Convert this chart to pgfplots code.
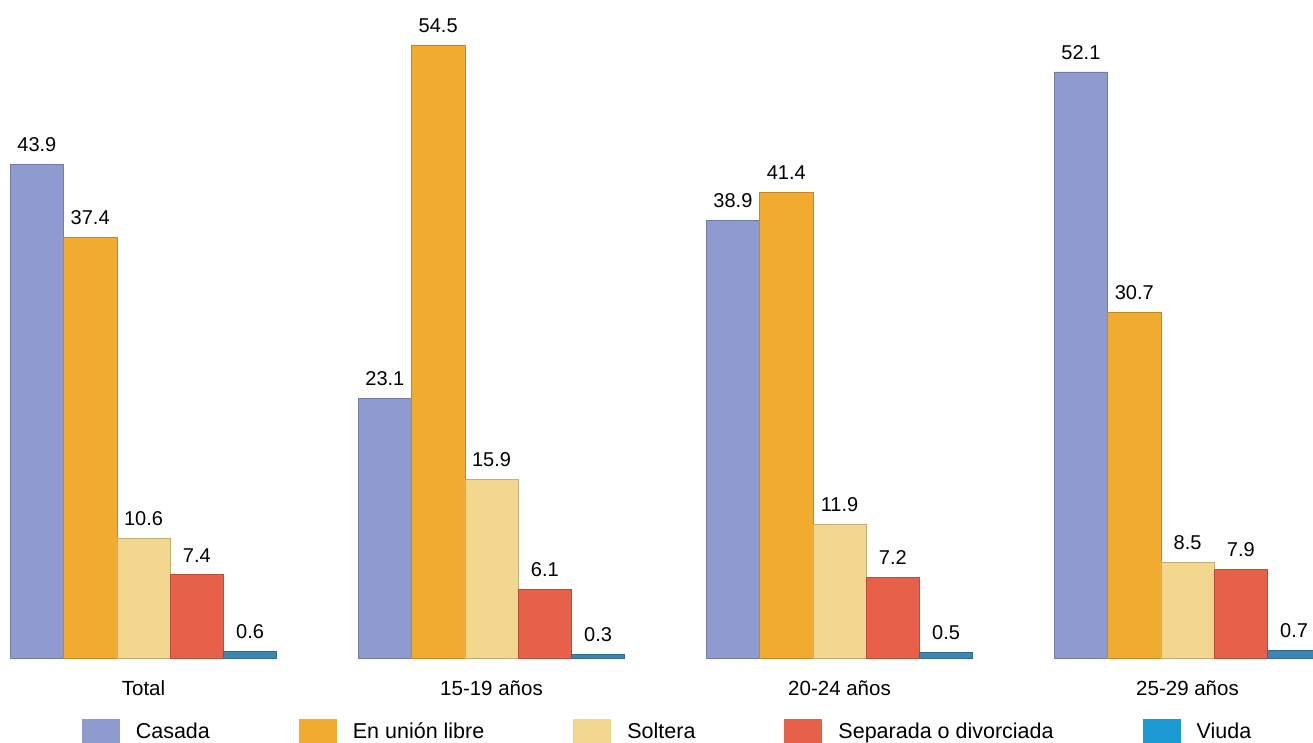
\documentclass[border=0pt]{standalone}
\usepackage{pgfplots}
\pgfplotsset{compat=1.18}
\usepackage{fontspec}
\setmainfont{Liberation Sans}
\definecolor{cCas}{HTML}{8E9BCF}
\definecolor{cUni}{HTML}{F1AB2E}
\definecolor{cSol}{HTML}{F2D88F}
\definecolor{cSep}{HTML}{E6604A}
\definecolor{cViu}{HTML}{3C85B5}
\definecolor{cViuL}{HTML}{1A9AD0}
\begin{document}
\begin{tikzpicture}
\pgfplotsset{
  barsh/.style={fill=#1, draw=#1!80!black, line width=0.6pt},
  leg/.style={legend image code/.code={\fill[#1, draw=none] (0pt,-12pt) rectangle (38pt,12pt);}},
}
\begin{axis}[
  scale only axis,
  width=1303pt, height=658pt,
  xmin=-0.3836, xmax=3.3606,
  ymin=0, ymax=58.49,
  ybar=0pt, bar width=53.3pt,
  axis x line*=bottom, axis y line=none,
  x axis line style={draw=none},
  major tick length=0pt,
  clip=false,
  xtick={0,1,2,3},
  xticklabels={Total,15-19 años,20-24 años,25-29 años},
  ytick=\empty,
  xticklabel style={font=\fontsize{20.5}{24}\selectfont, yshift=-19pt},
  every node near coord/.append style={font=\fontsize{20}{23}\selectfont, text=black, yshift=9pt},
  nodes near coords={\pgfmathprintnumber[fixed,fixed zerofill,precision=1,assume math mode=true]{\pgfplotspointmeta}},
  legend columns=5,
  legend cell align=left,
  legend style={draw=none, fill=none, at={(axis description cs:0.5,0)}, anchor=center, yshift=-73pt, xshift=6pt,
    font=\fontsize{21.5}{24}\selectfont,
    /tikz/every odd column/.append style={column sep=14pt},
    /tikz/every even column/.append style={column sep=87pt}},
]
\addplot[barsh=cCas, leg=cCas] coordinates {(0,43.9) (1,23.1) (2,38.9) (3,52.1)};
\addplot[barsh=cUni, leg=cUni] coordinates {(0,37.4) (1,54.5) (2,41.4) (3,30.7)};
\addplot[barsh=cSol, leg=cSol] coordinates {(0,10.6) (1,15.9) (2,11.9) (3,8.5)};
\addplot[barsh=cSep, leg=cSep] coordinates {(0,7.4) (1,6.1) (2,7.2) (3,7.9)};
\addplot[barsh=cViu, leg=cViuL] coordinates {(0,0.6) (1,0.3) (2,0.5) (3,0.7)};
\legend{Casada, En unión libre, Soltera, Separada o divorciada, Viuda}
\end{axis}
\pgfresetboundingbox
\path (-10pt,-84pt) rectangle (1303pt,658pt);
\end{tikzpicture}
\end{document}
